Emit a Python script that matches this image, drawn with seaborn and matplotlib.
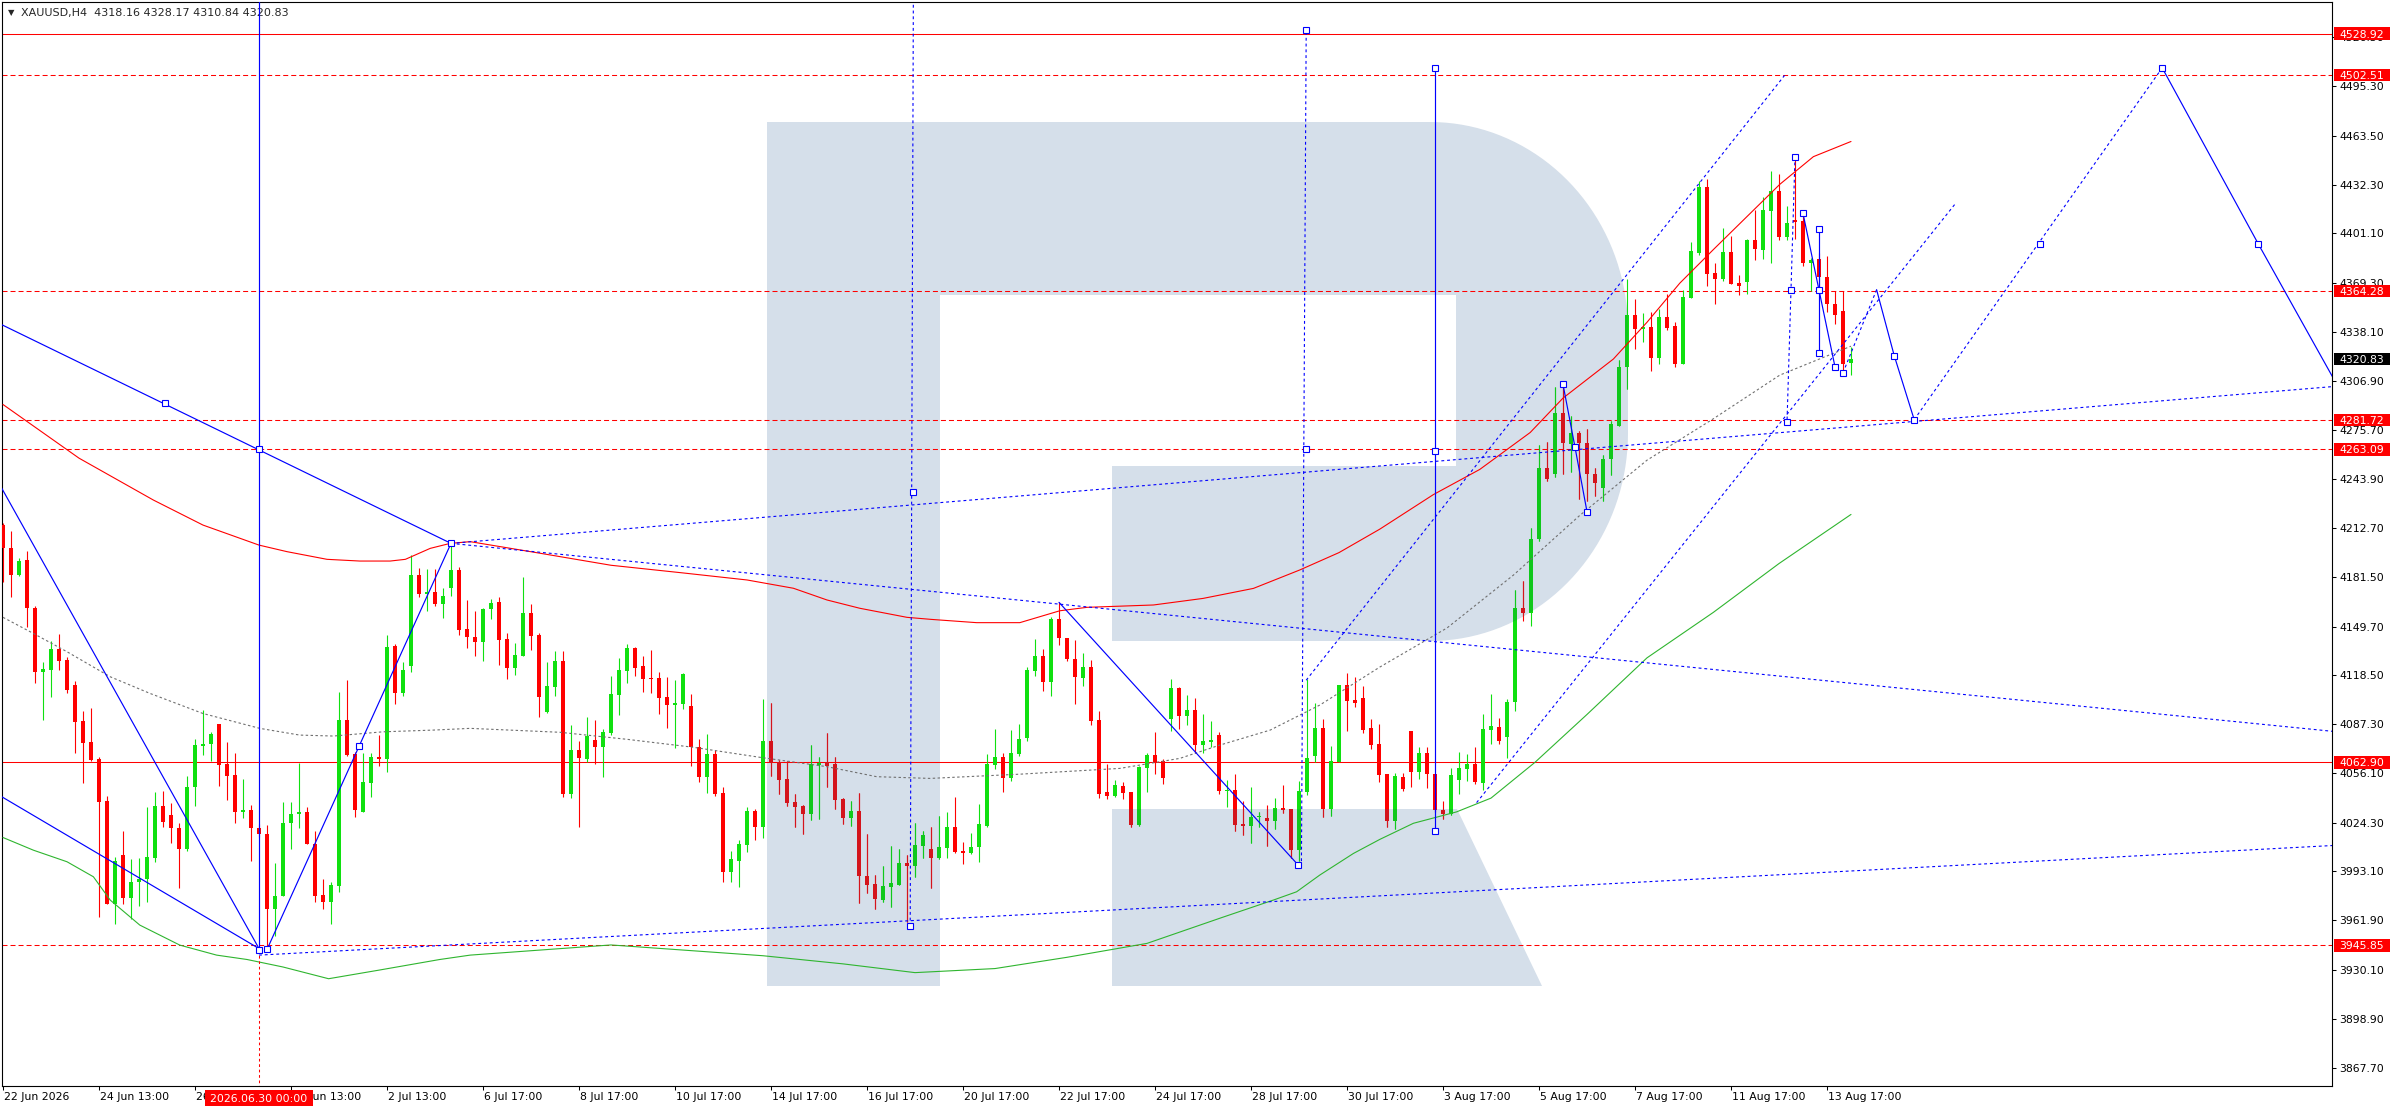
import numpy as np
import matplotlib
matplotlib.use("Agg")
import matplotlib.pyplot as plt
import seaborn as sns
from matplotlib.path import Path
from matplotlib.patches import PathPatch, Rectangle
from matplotlib.collections import LineCollection, PolyCollection
from matplotlib.transforms import Affine2D, blended_transform_factory, ScaledTranslation

# ---------------- data ----------------
opens = [
    4214.6, 4199.7, 4182.6, 4192.2, 4161.3, 4120.8, 4121.9, 4135.3, 4128.3, 4112.3,
    4089.2, 4075.8, 4064.7, 4038.1, 3972.6, 4003.5, 3976.2, 3986.1, 3988.0, 4001.8,
    4035.1, 4029.1, 4020.6, 4007.4, 4047.2, 4073.5, 4074.5, 4087.3, 4061.5, 4054.7,
    4031.3, 4032.3, 4020.6, 4016.8, 3969.4, 3977.5, 4023.8, 4029.6, 4030.8, 4010.6,
    3977.9, 3973.7, 3983.9, 4089.9, 4068.1, 4031.3, 4049.8, 4066.0, 4064.9, 4137.4,
    4107.0, 4124.6, 4182.6, 4170.5, 4171.5, 4164.1, 4174.5, 4185.8, 4148.1, 4143.0,
    4140.1, 4161.0, 4165.4, 4141.8, 4123.4, 4131.1, 4158.4, 4144.3, 4095.1, 4111.1,
    4127.7, 4042.8, 4070.8, 4065.0, 4077.2, 4072.9, 4081.6, 4105.9, 4121.5, 4136.0,
    4124.5, 4116.8, 4116.8, 4104.7, 4099.8, 4100.4, 4098.9, 4072.7, 4053.7, 4068.2,
    4043.3, 3992.9, 4000.0, 4010.0, 4031.7, 4021.7, 4076.5, 4063.1, 4052.2, 4037.7,
    4034.9, 4030.0, 4061.4, 4063.1, 4061.8, 4039.4, 4027.5, 4032.0, 3990.4, 3985.3,
    3975.0, 3983.4, 3984.6, 3998.5, 3996.8, 4009.6, 4007.4, 4001.8, 4008.3, 4021.5,
    4006.1, 4004.8, 4008.9, 4022.3, 4061.3, 4066.2, 4053.0, 4068.2, 4078.6, 4121.5,
    4130.8, 4114.4, 4154.5, 4142.3, 4128.9, 4117.0, 4123.6, 4089.9, 4043.9, 4041.5,
    4047.7, 4043.9, 4022.8, 4059.4, 4067.3, 4063.7, 4090.5, 4110.4, 4092.7, 4096.3,
    4074.1, 4076.1, 4080.3, 4044.5, 4045.1, 4023.4, 4022.3, 4027.7, 4027.2, 4025.5,
    4033.6, 4033.0, 4006.8, 4044.1, 4067.1, 4084.6, 4033.0, 4063.3, 4112.3, 4102.7,
    4104.0, 4084.6, 4074.6, 4055.4, 4025.3, 4053.3, 4082.9, 4056.5, 4068.8, 4055.3,
    4032.1, 4029.7, 4051.8, 4058.3, 4061.5, 4049.7, 4083.5, 4085.6, 4079.1, 4101.2,
    4161.5, 4158.2, 4205.6, 4250.8, 4247.3, 4286.4, 4266.4, 4273.2, 4267.0, 4247.3,
    4238.5, 4257.0, 4278.2, 4315.8, 4348.7, 4339.9, 4341.4, 4321.7, 4347.8, 4342.0,
    4317.3, 4359.9, 4388.4, 4430.5, 4375.8, 4371.7, 4389.3, 4369.3, 4370.2, 4396.7,
    4390.8, 4415.5, 4428.1, 4398.7, 4409.6, 4409.0, 4382.5, 4384.6, 4373.1, 4356.1,
    4351.7, 4318.16,
]
highs = [
    4215.7, 4210.8, 4193.7, 4198.0, 4162.8, 4126.8, 4140.4, 4144.9, 4130.4, 4114.8,
    4095.9, 4097.4, 4066.4, 4041.5, 4002.5, 4018.9, 4001.0, 4001.4, 4034.5, 4043.8,
    4044.5, 4036.6, 4023.8, 4054.3, 4077.7, 4096.3, 4082.4, 4087.3, 4076.0, 4068.6,
    4052.1, 4035.5, 4023.4, 4022.7, 3998.6, 4037.2, 4037.2, 4062.2, 4034.2, 4018.9,
    3988.0, 3986.5, 4107.6, 4115.5, 4069.6, 4068.6, 4068.6, 4080.3, 4144.3, 4138.5,
    4126.8, 4195.4, 4186.9, 4186.5, 4186.5, 4174.1, 4202.9, 4187.5, 4166.6, 4159.7,
    4161.8, 4167.3, 4168.6, 4145.6, 4139.2, 4181.6, 4164.2, 4145.6, 4127.1, 4134.1,
    4134.1, 4086.8, 4076.5, 4092.1, 4090.0, 4084.2, 4118.1, 4129.6, 4138.6, 4136.6,
    4130.9, 4134.7, 4120.7, 4117.5, 4115.5, 4120.0, 4106.6, 4077.8, 4081.0, 4070.8,
    4047.1, 4006.2, 4013.2, 4034.3, 4033.2, 4103.4, 4100.8, 4064.4, 4063.9, 4042.6,
    4035.6, 4074.2, 4066.3, 4081.6, 4066.3, 4040.1, 4038.1, 4043.3, 4017.0, 3991.0,
    3996.8, 4009.4, 4007.7, 4003.6, 4024.1, 4019.0, 4021.5, 4028.5, 4031.1, 4040.7,
    4012.1, 4017.6, 4036.2, 4068.2, 4084.2, 4069.0, 4083.7, 4087.4, 4123.8, 4141.7,
    4135.3, 4155.8, 4165.6, 4142.3, 4141.1, 4132.8, 4128.3, 4095.7, 4061.8, 4051.3,
    4050.0, 4043.9, 4060.3, 4069.0, 4082.0, 4065.0, 4116.1, 4111.0, 4105.9, 4104.0,
    4093.7, 4089.3, 4082.0, 4051.3, 4055.4, 4038.3, 4046.8, 4030.9, 4035.3, 4040.0,
    4048.3, 4033.0, 4051.1, 4116.1, 4100.6, 4090.3, 4073.3, 4112.3, 4119.8, 4117.2,
    4111.7, 4090.5, 4087.4, 4055.4, 4056.2, 4056.2, 4082.9, 4072.4, 4072.4, 4055.3,
    4038.0, 4059.1, 4069.4, 4068.0, 4072.4, 4093.8, 4106.8, 4091.5, 4103.2, 4172.9,
    4179.1, 4212.9, 4265.8, 4267.9, 4302.6, 4304.0, 4284.1, 4274.6, 4275.8, 4251.1,
    4259.6, 4281.1, 4319.9, 4371.7, 4359.0, 4350.2, 4351.1, 4352.6, 4362.5, 4344.3,
    4364.9, 4395.8, 4434.6, 4436.0, 4382.5, 4404.6, 4399.3, 4374.3, 4397.8, 4416.3,
    4424.3, 4441.3, 4439.3, 4418.4, 4449.6, 4413.4, 4385.5, 4388.4, 4386.9, 4364.3,
    4364.3, 4328.17,
]
lows = [
    4178.0, 4168.8, 4182.0, 4149.6, 4113.8, 4089.9, 4104.8, 4121.9, 4107.4, 4068.6,
    4049.8, 4063.9, 3964.1, 3972.2, 3959.4, 3972.6, 3963.0, 3971.1, 3973.7, 3998.9,
    4021.7, 4011.4, 3982.6, 4006.3, 4035.1, 4067.5, 4063.9, 4047.9, 4039.1, 4023.8,
    4027.0, 3999.9, 4015.0, 3944.9, 3951.9, 3977.3, 4007.4, 4020.6, 4010.6, 3973.7,
    3969.4, 3959.8, 3980.1, 4066.9, 4028.1, 4030.8, 4040.9, 4060.7, 4056.8, 4099.9,
    4105.5, 4120.8, 4168.8, 4159.8, 4163.0, 4154.9, 4169.4, 4144.3, 4136.2, 4130.9,
    4127.7, 4154.6, 4125.1, 4116.2, 4118.7, 4130.9, 4134.7, 4092.1, 4094.2, 4105.3,
    4040.9, 4040.3, 4021.7, 4063.3, 4062.0, 4053.7, 4080.4, 4093.2, 4113.8, 4118.1,
    4108.1, 4107.4, 4094.0, 4085.0, 4072.3, 4097.2, 4060.7, 4050.1, 4043.5, 4041.6,
    3986.5, 3986.5, 3983.4, 4005.7, 4013.4, 4014.7, 4054.3, 4042.8, 4035.2, 4021.7,
    4017.3, 4026.2, 4026.8, 4047.3, 4033.2, 4023.6, 4022.4, 3973.1, 3979.5, 3969.3,
    3973.8, 3970.6, 3984.6, 3961.0, 3989.7, 4001.9, 3982.2, 4000.8, 4001.8, 4004.6,
    3998.0, 4004.4, 3999.3, 4021.7, 4058.8, 4044.1, 4051.1, 4067.1, 4076.4, 4118.0,
    4108.5, 4105.2, 4137.9, 4127.9, 4100.3, 4111.7, 4086.5, 4040.2, 4039.6, 4040.4,
    4039.2, 4021.7, 4022.3, 4044.1, 4055.4, 4049.2, 4082.9, 4084.3, 4086.7, 4068.6,
    4069.0, 4072.9, 4042.4, 4034.5, 4019.1, 4016.3, 4011.4, 4021.7, 4009.3, 4020.2,
    4030.2, 4001.4, 4000.0, 4042.0, 4062.8, 4028.1, 4028.7, 4063.3, 4082.9, 4098.4,
    4081.8, 4071.4, 4050.0, 4021.7, 4020.3, 4044.4, 4047.4, 4052.4, 4046.5, 4031.2,
    4026.8, 4029.2, 4042.4, 4050.9, 4048.8, 4045.3, 4074.7, 4074.4, 4065.9, 4095.9,
    4153.2, 4150.3, 4204.1, 4242.9, 4245.2, 4247.3, 4248.8, 4231.1, 4229.7, 4233.2,
    4229.7, 4246.7, 4278.2, 4301.7, 4327.3, 4331.7, 4312.9, 4317.3, 4339.3, 4315.8,
    4317.3, 4359.9, 4387.5, 4367.3, 4356.1, 4370.8, 4368.7, 4361.9, 4362.4, 4384.0,
    4384.9, 4382.5, 4396.7, 4396.7, 4397.8, 4380.5, 4364.3, 4364.9, 4350.8, 4342.9,
    4312.9, 4310.84,
]
closes = [
    4199.7, 4182.6, 4191.6, 4161.3, 4120.8, 4122.5, 4135.3, 4127.8, 4109.1, 4088.8,
    4075.4, 4064.3, 4037.6, 3972.6, 3999.7, 3976.2, 3986.5, 3988.2, 4002.5, 4035.1,
    4024.9, 4020.6, 4007.4, 4047.2, 4073.9, 4074.3, 4080.9, 4061.1, 4054.3, 4031.3,
    4032.3, 4020.6, 4016.8, 3969.4, 3977.5, 4023.8, 4029.8, 4030.8, 4010.6, 3977.5,
    3973.7, 3984.4, 4089.9, 4067.5, 4032.3, 4050.0, 4066.0, 4064.9, 4136.8, 4107.0,
    4121.9, 4182.6, 4170.5, 4171.5, 4164.1, 4169.2, 4185.8, 4147.5, 4142.8, 4140.1,
    4161.0, 4164.8, 4141.1, 4123.4, 4131.5, 4158.4, 4143.9, 4104.9, 4111.7, 4127.7,
    4042.8, 4070.8, 4065.9, 4079.7, 4072.9, 4082.3, 4106.6, 4121.9, 4136.0, 4123.2,
    4116.4, 4116.2, 4104.2, 4099.5, 4100.8, 4119.4, 4072.7, 4053.7, 4068.2, 4042.8,
    3992.9, 4001.1, 4010.6, 4031.7, 4021.7, 4076.5, 4062.7, 4051.8, 4037.1, 4034.5,
    4030.0, 4062.0, 4062.7, 4060.7, 4039.0, 4027.5, 4032.0, 3990.4, 3984.6, 3975.7,
    3984.0, 3985.7, 3998.5, 3996.8, 4010.0, 4016.4, 4001.8, 4008.5, 4021.5, 4005.3,
    4004.8, 4008.9, 4023.4, 4061.8, 4066.2, 4053.0, 4068.8, 4077.8, 4121.9, 4130.8,
    4114.4, 4154.5, 4142.6, 4128.9, 4117.6, 4123.6, 4089.5, 4042.8, 4041.5, 4048.1,
    4043.4, 4022.8, 4059.8, 4067.3, 4062.6, 4053.0, 4110.4, 4092.7, 4096.3, 4074.1,
    4076.3, 4077.1, 4044.7, 4045.4, 4022.8, 4022.3, 4027.9, 4028.5, 4025.5, 4033.6,
    4032.3, 4006.8, 4044.7, 4065.6, 4084.6, 4033.0, 4063.7, 4112.3, 4102.3, 4101.0,
    4083.5, 4074.1, 4054.9, 4025.5, 4054.1, 4045.9, 4056.5, 4068.8, 4055.3, 4032.1,
    4029.7, 4054.7, 4059.1, 4061.5, 4050.3, 4084.1, 4086.2, 4076.8, 4101.5, 4161.5,
    4158.2, 4205.6, 4250.8, 4243.8, 4286.4, 4267.0, 4273.2, 4267.0, 4247.3, 4241.4,
    4257.0, 4279.1, 4315.8, 4348.7, 4339.9, 4341.4, 4321.7, 4347.8, 4340.8, 4317.3,
    4360.5, 4389.9, 4430.5, 4375.2, 4371.7, 4389.3, 4368.7, 4367.3, 4396.7, 4391.4,
    4415.8, 4428.1, 4398.7, 4407.5, 4408.1, 4382.5, 4384.0, 4373.1, 4356.1, 4348.7,
    4317.9, 4320.83,
]

# moving averages (bar index, price)
red_ma_bar = [0, 9.5, 18.8, 25, 32, 35.5, 40.5, 44.6, 48.4, 50.3, 53.4, 55.9, 58.4, 67, 76,
              85, 93, 98.8, 103, 107.1, 113, 116, 121.7, 127.1, 132.1, 135.5, 143.8, 150,
              156.3, 162.1, 167, 172.1, 178.8, 184.6, 190.9, 195, 201.3, 205.5, 209.6,
              213.8, 218, 222.1, 226.3, 231]
red_ma_val = [4291.7, 4257.4, 4230.6, 4214.6, 4201.8, 4197.6, 4192.7, 4191.6, 4191.6, 4192.7,
              4199.7, 4202.9, 4204.0, 4196.7, 4188.9, 4184.0, 4179.5, 4174.2, 4166.7, 4161.4,
              4155.6, 4154.3, 4152.2, 4152.2, 4159.8, 4162.0, 4163.5, 4167.7, 4174.1, 4185.9,
              4197.0, 4212.0, 4234.1, 4250.2, 4273.8, 4295.8, 4320.8, 4344.3, 4369.3, 4390.8,
              4411.9, 4432.5, 4450.2, 4459.9]
green_ma_bar = [0, 3.8, 8, 11.3, 13.4, 17.1, 22.1, 26.7, 30.5, 35, 40.7, 47, 54.6, 58.4, 76,
                95, 105, 114, 124, 133, 143, 152.4, 158.8, 161.7, 164.6, 168.8, 172.1, 176.3,
                181.7, 186, 191.5, 198, 205.5, 213.8, 222, 231]
green_ma_val = [4014.8, 4006.7, 3999.3, 3989.7, 3974.8, 3958.8, 3946.0, 3939.6, 3936.8, 3932.0,
                3924.5, 3930.0, 3936.8, 3939.6, 3946.1, 3939.2, 3934.0, 3928.4, 3931.0, 3938.2,
                3947.1, 3963.7, 3974.8, 3980.1, 3990.8, 4004.6, 4013.6, 4023.9, 4031.2, 4040.0,
                4062.9, 4093.5, 4129.7, 4158.8, 4190.0, 4221.4]
gray_ma_bar = [0, 3.8, 8, 13.4, 18.4, 25, 32.1, 37.1, 41.3, 47.5, 53.8, 58.4, 69.6, 78, 86.3,
               94.6, 103, 109.2, 115.9, 127.1, 139.6, 147.1, 152.1, 158.4, 164.6, 172.1, 180.5,
               188.8, 197.1, 205.5, 213.8, 222.1, 231]
gray_ma_val = [4155.6, 4145.3, 4133.6, 4117.6, 4106.9, 4094.1, 4084.6, 4080.3, 4079.7, 4082.4,
               4083.5, 4084.6, 4082.1, 4077.6, 4072.5, 4066.1, 4060.1, 4053.7, 4052.6, 4055.3,
               4059.0, 4065.4, 4073.9, 4083.5, 4099.5, 4123.8, 4148.8, 4182.6, 4220.8, 4256.1,
               4282.6, 4310.5, 4329.0]

# horizontal levels
solid_levels = [4528.92, 4062.90]
dashed_levels = [4502.51, 4364.28, 4281.72, 4263.09, 3945.85]

# analysis drawings, each a list of (bar, price)
solid_paths = [
    [(-5.0, 4282.5), (32.0, 3943.8)],
    [(-5.0, 4055.5), (32.0, 3943.8)],
    [(-5.0, 4354.8), (56.0, 4202.9)],
    [(33.0, 3943.2), (56.0, 4202.9)],
    [(32.0, 3943.0), (32.0, 4560.0)],
    [(132.0, 4165.2), (161.9, 3997.2)],
    [(179.0, 4018.9), (179.0, 4507.0)],
    [(195.0, 4304.6), (196.5, 4264.4), (198.0, 4223.2)],
    [(225.0, 4414.0), (227.0, 4364.9), (229.0, 4315.8)],
    [(227.0, 4404.0), (227.0, 4324.6)],
    [(234.2, 4365.1), (236.4, 4323.0), (238.9, 4282.0)],
    [(269.9, 4507.0), (281.9, 4394.5), (292.0, 4302.0)],
]
dotted_paths = [
    [(32.0, 3939.6), (292.0, 4009.9)],
    [(56.0, 4202.9), (292.0, 4082.3)],
    [(56.0, 4202.9), (292.0, 4303.5)],
    [(113.4, 3958.0), (113.8, 4560.0)],
    [(162.3, 3996.0), (162.9, 4531.5)],
    [(162.9, 4115.4), (222.7, 4502.2)],
    [(184.2, 4037.1), (244.1, 4420.5)],
    [(224.0, 4450.2), (223.0, 4280.2)],
    [(230.0, 4312.0), (234.2, 4365.1)],
    [(238.9, 4282.0), (269.9, 4507.0)],
]
anchor_bar = [32.0, 32.0, 33.0, 20.3, 44.5, 56.0, 113.8, 113.4, 162.9, 162.9, 161.9,
              179.0, 179.0, 179.0, 195.0, 196.5, 198.0, 224.0, 223.0, 223.5,
              225.0, 227.0, 227.0, 227.0, 229.0, 230.0, 236.4, 238.9, 254.6, 269.9, 281.9]
anchor_price = [4263.3, 3942.8, 3943.2, 4292.6, 4073.3, 4202.9, 4235.9, 3958.0, 4531.5, 4263.3, 3997.2,
                4507.0, 4262.0, 4018.9, 4304.6, 4264.4, 4223.2, 4450.2, 4280.2, 4364.9,
                4414.0, 4404.0, 4364.9, 4324.6, 4315.8, 4311.9, 4323.0, 4282.0, 4394.5, 4507.0, 4394.5]

price_ticks = [3867.70, 3898.90, 3930.10, 3961.90, 3993.10, 4024.30, 4056.10, 4087.30, 4118.50,
               4149.70, 4181.50, 4212.70, 4243.90, 4275.70, 4306.90, 4338.10, 4369.30, 4401.10,
               4432.30, 4463.50, 4495.30, 4526.50]
time_tick_bars = [0, 12, 24, 36, 48, 60, 72, 84, 96, 108, 120, 132, 144, 156, 168, 180, 192, 204, 216, 228]
time_tick_labels = ["22 Jun 2026", "24 Jun 13:00", "26 Jun 13:00", "30 Jun 13:00", "2 Jul 13:00",
                    "6 Jul 17:00", "8 Jul 17:00", "10 Jul 17:00", "14 Jul 17:00", "16 Jul 17:00",
                    "20 Jul 17:00", "22 Jul 17:00", "24 Jul 17:00", "28 Jul 17:00", "30 Jul 17:00",
                    "3 Aug 17:00", "5 Aug 17:00", "7 Aug 17:00", "11 Aug 17:00", "13 Aug 17:00"]
cursor_bar = 32.0
cursor_label = "2026.06.30 00:00"
symbol = "XAUUSD,H4"

# ---------------- styling ----------------
sns.set_theme(style="white")
plt.rcParams['font.family'] = ['DejaVu Sans']

UP = '#10e010'
DOWN = '#ff0000'
UP_ON_LOGO = '#10c81c'
DOWN_ON_LOGO = '#d4141c'
BLUE = '#0000ff'
LOGO = '#d5dfea'
FS = 7.8

fig = plt.figure(figsize=(23.96, 11.10), dpi=100, facecolor='white')
ax = fig.add_axes([2 / 2396, 24 / 1110, 2330 / 2396, 1084 / 1110])
ax.set_facecolor('white')
ax.set_xlim(-0.125, 291.125)
ax.set_ylim(3855.9, 4549.1)

# ---- watermark "R" (drawn in reference pixel units) ----
px_to_axes = Affine2D().translate(-2, -2).scale(1 / 2330, -1 / 1084).translate(0, 1) + ax.transAxes
t1 = np.linspace(-np.pi / 2, 0, 40)
t2 = np.linspace(0, np.pi / 2, 40)
outer = [(767, 122), (1430, 122)]
outer += list(zip(1430 + 198 * np.cos(t1), 330 + 208 * np.sin(t1)))
outer += list(zip(1430 + 198 * np.cos(t2), 433 + 208 * np.sin(t2)))
outer += [(1112, 641), (1112, 466), (1456, 466), (1456, 295), (940, 295), (940, 986), (767, 986)]
leg = [(1112, 809), (1457, 809), (1542, 986), (1112, 986)]
verts = outer + [outer[0]] + leg + [leg[0]]
codes = ([Path.MOVETO] + [Path.LINETO] * (len(outer) - 1) + [Path.CLOSEPOLY]
         + [Path.MOVETO] + [Path.LINETO] * 3 + [Path.CLOSEPOLY])
logo = PathPatch(Path(verts, codes), transform=px_to_axes, fc=LOGO, ec='none', zorder=0)
ax.add_patch(logo)

# ---- horizontal levels ----
for lv in solid_levels:
    ax.axhline(lv, color='#ff0000', lw=0.75, zorder=1.5)
for lv in dashed_levels:
    ax.axhline(lv, color='#ff0000', lw=0.75, dashes=(4.8, 2.9), zorder=1.5)


# ---- candles ----
def draw_candles(up_col, dn_col, clip=None):
    o = np.array(opens)
    c = np.array(closes)
    h = np.array(highs)
    lo = np.array(lows)
    x = np.arange(len(c))
    up = c >= o
    cols = np.where(up, up_col, dn_col)
    segs = [[(i, lo[i]), (i, h[i])] for i in x]
    wicks = LineCollection(segs, colors=cols, linewidths=0.8, zorder=3)
    bodies = []
    for i in x:
        b0, b1 = min(o[i], c[i]), max(o[i], c[i])
        if b1 - b0 < 0.8:
            b1 = b0 + 0.8
        bodies.append([(i - 0.31, b0), (i + 0.31, b0), (i + 0.31, b1), (i - 0.31, b1)])
    rects = PolyCollection(bodies, facecolors=cols, edgecolors='none', zorder=3.1)
    for art in (wicks, rects):
        ax.add_collection(art)
        if clip is not None:
            art.set_clip_path(clip)


draw_candles(UP, DOWN)
draw_candles(UP_ON_LOGO, DOWN_ON_LOGO, clip=logo)

# ---- moving averages ----
sns.lineplot(x=red_ma_bar, y=red_ma_val, ax=ax, color='#ff0000', linewidth=0.8,
             estimator=None, sort=False, zorder=4)
sns.lineplot(x=green_ma_bar, y=green_ma_val, ax=ax, color='#2fb52f', linewidth=0.8,
             estimator=None, sort=False, zorder=4)
sns.lineplot(x=gray_ma_bar, y=gray_ma_val, ax=ax, color='#707070', linewidth=0.8,
             estimator=None, sort=False, zorder=4)
ax.lines[-1].set_dashes([2.2, 2.2])

# ---- analysis drawings ----
for p in solid_paths:
    xs, ys = zip(*p)
    ax.plot(xs, ys, color=BLUE, lw=0.85, zorder=6)
for p in dotted_paths:
    xs, ys = zip(*p)
    ax.plot(xs, ys, color=BLUE, lw=0.8, dashes=(2.6, 2.6), zorder=6)
ax.plot([cursor_bar, cursor_bar], [3943.0, 3800.0], color='#ff0000', lw=0.75,
        dashes=(2.6, 2.6), zorder=6)
ax.plot(anchor_bar, anchor_price, 's', ms=4.2, mfc='white', mec=BLUE, mew=0.8, zorder=7)

# ---- axes, ticks ----
for s in ax.spines.values():
    s.set_color('black')
    s.set_linewidth(0.8)
ax.set_xlabel('')
ax.set_ylabel('')
ax.yaxis.tick_right()
ax.set_yticks(price_ticks)
ax.set_yticklabels([f"{v:.2f}" for v in price_ticks])
ax.tick_params(axis='y', which='both', left=False, right=True, labelleft=False, labelright=True,
               direction='out', length=3, width=0.75, pad=2, labelsize=FS, colors='black')
ax.set_xticks(time_tick_bars)
ax.set_xticklabels(time_tick_labels, ha='left')
ax.tick_params(axis='x', bottom=True, direction='out', length=3, width=0.75, pad=1.5,
               labelsize=FS, colors='black')
shift = ScaledTranslation(1.5 / 100, 0, fig.dpi_scale_trans)
for lab in ax.get_xticklabels():
    lab.set_transform(lab.get_transform() + shift)

# ---- price boxes on the right axis ----
ty = blended_transform_factory(ax.transAxes, ax.transData)
bx0 = 1 + 1.5 / 2330
bw = 56 / 2330


def price_box(val, fc):
    ax.add_patch(Rectangle((bx0, val - 4.0), bw, 8.0, transform=ty, fc=fc, ec='none',
                           clip_on=False, zorder=20))
    ax.text(bx0 + bw / 2, val, f"{val:.2f}", transform=ty, color='white', fontsize=FS,
            ha='center', va='center_baseline', clip_on=False, zorder=21)


for lv in solid_levels + dashed_levels:
    price_box(lv, '#ff0000')
price_box(closes[-1], 'black')

# ---- cursor time label ----
tx = blended_transform_factory(ax.transData, ax.transAxes)
ax.add_patch(Rectangle((cursor_bar - 6.8, -0.0185), 13.6, 0.0148, transform=tx, fc='#ff0000',
                       ec='none', clip_on=False, zorder=20))
ax.text(cursor_bar, -0.0111, cursor_label, transform=tx, color='white', fontsize=FS,
        ha='center', va='center_baseline', clip_on=False, zorder=21)

# ---- header ----
ax.text(0.0041, 0.9901, '\u25bc', transform=ax.transAxes, fontsize=6, ha='center', va='center', zorder=2)
header = f"{symbol}  {opens[-1]:.2f} {highs[-1]:.2f} {lows[-1]:.2f} {closes[-1]:.2f}"
ax.text(0.0082, 0.9901, header, transform=ax.transAxes, fontsize=8, ha='left', va='center', zorder=2)

fig.savefig('out.png', dpi=100, facecolor='white')
